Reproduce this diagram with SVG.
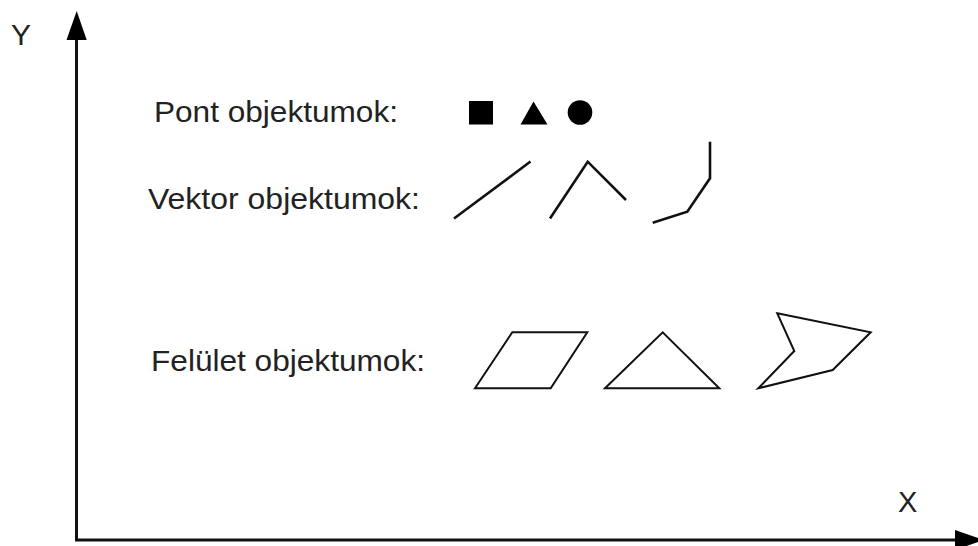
<svg xmlns="http://www.w3.org/2000/svg" width="978" height="546" viewBox="0 0 978 546">
<style>
.lbl{font-family:"Liberation Sans",Arial,sans-serif;font-size:29px;fill:#222}
.ax{stroke:#111;stroke-width:3;fill:none}
.vec{stroke:#111;stroke-width:2.6;fill:none;stroke-linejoin:miter}
.poly{stroke:#111;stroke-width:2;fill:none}
.pt{fill:#000}
</style>
<rect width="978" height="546" fill="#fff"/>
<g id="axes">
<line class="ax" x1="76.5" y1="38" x2="76.5" y2="541"/>
<line class="ax" x1="75" y1="540" x2="957" y2="540"/>
<polygon points="76.7,11 66.5,40 86.7,40" fill="#000"/>
<polygon points="984,540 955,530 955,550" fill="#000"/>
</g>
<g id="axis-labels">
<text class="lbl" x="11" y="45" style="font-size:30px">Y</text>
<text class="lbl" x="898" y="512">X</text>
</g>
<g id="pont">
<text class="lbl" x="154" y="122" textLength="244" lengthAdjust="spacingAndGlyphs">Pont objektumok:</text>
<rect class="pt" x="469" y="101" width="24" height="23.5"/>
<polygon class="pt" points="533.5,101.5 520.5,124.5 547.5,124.5"/>
<circle class="pt" cx="580" cy="112.5" r="12.3"/>
</g>
<g id="vektor">
<text class="lbl" x="148" y="209" textLength="272" lengthAdjust="spacingAndGlyphs">Vektor objektumok:</text>
<polyline class="vec" points="454,218.5 530.5,161.5"/>
<polyline class="vec" points="550,218.5 587.7,161.7 626,200"/>
<polyline class="vec" points="652.7,222.7 687.3,211.7 710,178.3 710,141.7"/>
</g>
<g id="felulet">
<text class="lbl" x="151" y="371" textLength="274" lengthAdjust="spacingAndGlyphs">Felület objektumok:</text>
<polygon class="poly" points="475,388.3 512.3,332.3 587.3,332.3 550.7,388.3"/>
<polygon class="poly" points="605,388.3 662.7,332.3 719.3,388.3"/>
<polygon class="poly" points="777.3,313.3 870.7,332.3 832.7,370 758.3,388.3 794.3,351"/>
</g>
</svg>
